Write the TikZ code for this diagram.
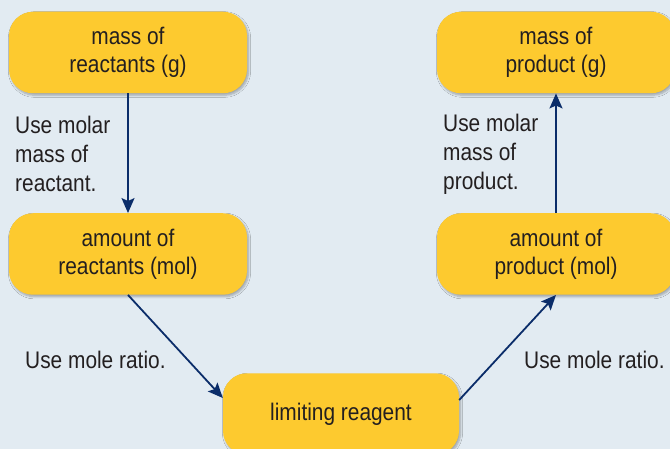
\documentclass[tikz,border=0pt]{standalone}
\usepackage{fontspec}
\setmainfont[FakeStretch=0.87]{Liberation Sans}
\usetikzlibrary{arrows.meta,shadows.blur}
\definecolor{bg}{HTML}{E2EBF2}
\definecolor{boxy}{HTML}{FDCA2F}
\definecolor{navy}{HTML}{0B2D6A}
\definecolor{txt}{HTML}{231F20}
\tikzset{
  stepbox/.style={draw=none, fill=boxy, rounded corners=24pt, minimum width=238pt,
    minimum height=81.5pt, inner sep=0pt, align=center, text=txt,
    font=\fontsize{24}{28}\selectfont,
    blur shadow={shadow xshift=1.5pt, shadow yshift=-2pt, shadow blur steps=6, shadow opacity=30}},
  note/.style={inner sep=0pt, align=left, text=txt, font=\fontsize{24}{29}\selectfont},
  conn/.style={draw=navy, line width=1.8pt, -{Stealth[length=15pt, width=13pt, inset=3pt]}}
}
\begin{document}
\begin{tikzpicture}[x=1pt, y=-1pt]
\fill[bg] (0,0) rectangle (670,449);
\useasboundingbox (0,0) rectangle (670,449);
\node[stepbox] (mr) at (128,52.5) {mass of\\reactants (g)};
\node[stepbox] (ar) at (128,254) {amount of\\reactants (mol)};
\node[stepbox, minimum width=236pt] (lr) at (341,414) {limiting reagent};
\node[stepbox] (ap) at (556,254) {amount of\\product (mol)};
\node[stepbox] (pm) at (556,52.5) {mass of\\product (g)};
\node[note, anchor=base west] (l1) at (15,192) {Use molar\\mass of\\reactant.};
\node[note, anchor=base west] (l2) at (443,190) {Use molar\\mass of\\product.};
\node[note, anchor=base west] (l3) at (25,369) {Use mole ratio.};
\node[note, anchor=base west] (l4) at (524,369) {Use mole ratio.};
\draw[conn] (mr.south) -- (ar.north);
\draw[conn] (ar.south) -- ([yshift=16pt]lr.west);
\draw[conn] ([yshift=14pt]lr.east) -- (ap.south);
\draw[conn] (ap.north) -- (pm.south);
\end{tikzpicture}
\end{document}
